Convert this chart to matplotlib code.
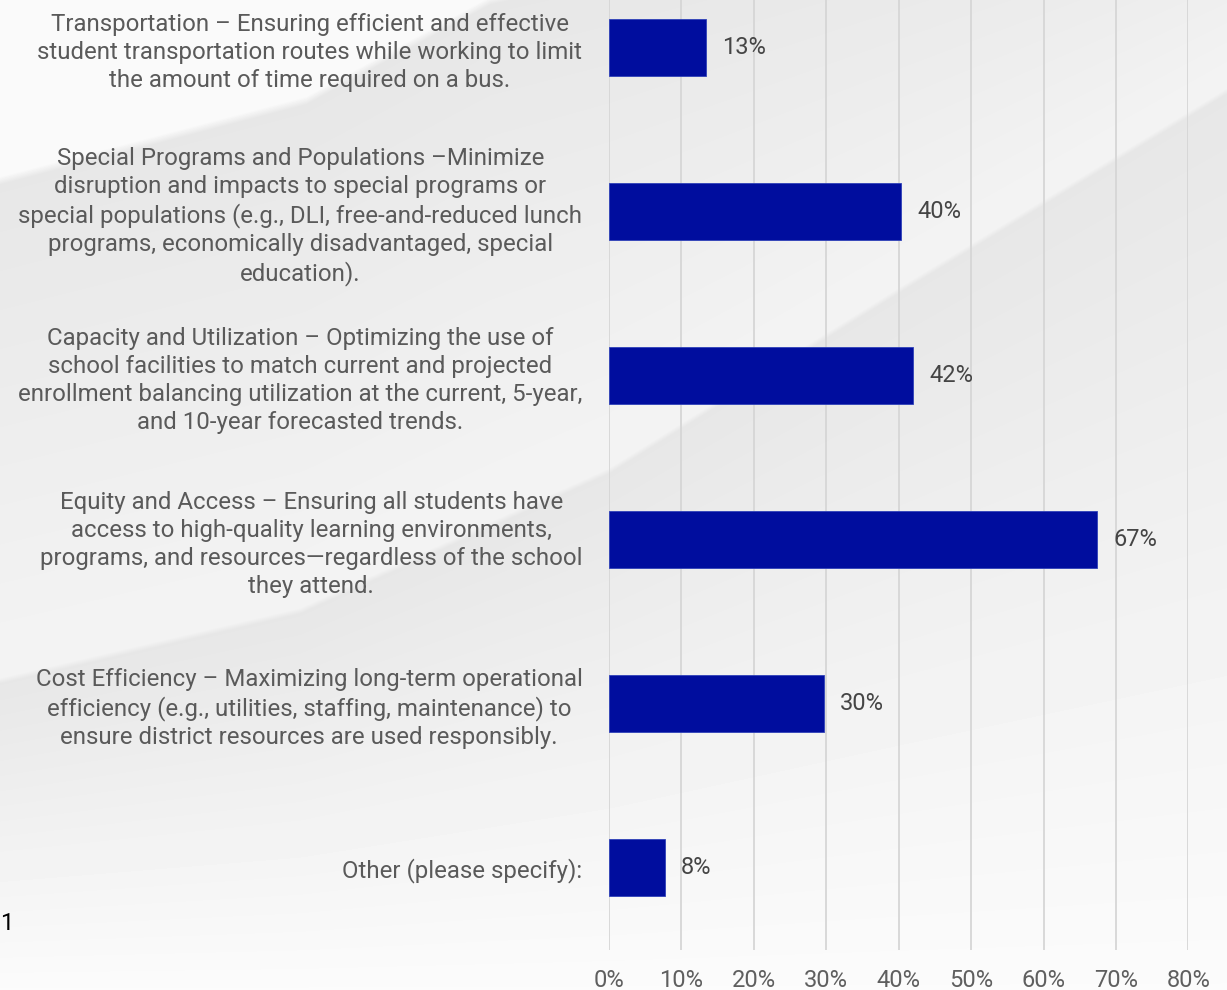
import numpy as np
import matplotlib
matplotlib.use('Agg')
import matplotlib.pyplot as plt

plt.rcParams['font.family'] = ['Roboto', 'DejaVu Sans']

# %% data
categories = [
    "Transportation – Ensuring efficient and effective\n"
    "student transportation routes while working to limit\n"
    "the amount of time required on a bus.",
    "Special Programs and Populations –Minimize\n"
    "disruption and impacts to special programs or\n"
    "special populations (e.g., DLI, free-and-reduced lunch\n"
    "programs, economically disadvantaged, special\n"
    "education).",
    "Capacity and Utilization – Optimizing the use of\n"
    "school facilities to match current and projected\n"
    "enrollment balancing utilization at the current, 5-year,\n"
    "and 10-year forecasted trends.",
    "Equity and Access – Ensuring all students have\n"
    "access to high-quality learning environments,\n"
    "programs, and resources—regardless of the school\n"
    "they attend.",
    "Cost Efficiency – Maximizing long-term operational\n"
    "efficiency (e.g., utilities, staffing, maintenance) to\n"
    "ensure district resources are used responsibly.",
    "Other (please specify):",
]
percent = [13.4, 40.4, 42.0, 67.4, 29.7, 7.7]
value_labels = ['13%', '40%', '42%', '67%', '30%', '8%']
x_ticks = [0, 10, 20, 30, 40, 50, 60, 70, 80]

W, H = 1227, 990
fig = plt.figure(figsize=(W / 100, H / 100), dpi=100)

# %% background (grey slide with a light swoosh)
yy, xx = np.mgrid[0:H, 0:W].astype(float)
y1 = np.interp(xx, [0, 306, 490, 1227], [180, 100, 0, -160])
y2 = np.interp(xx, [0, 300, 609, 898, 1227], [680, 610, 470, 290, 90])
t = np.clip((yy - y1) / (y2 - y1), 0, 1)
between = 0.905 + 0.05 * t
t2 = np.clip((yy - y2) / (H - y2), 0, 1)
below = 0.905 + 0.08 * t2
s1 = np.clip((yy - y1) / 8 + 0.5, 0, 1)
s2 = np.clip((yy - y2) / 6 + 0.5, 0, 1)
img = 0.978 * (1 - s1) + s1 * ((1 - s2) * between + s2 * below)
bg = fig.add_axes([0, 0, 1, 1], zorder=0)
bg.imshow(img, cmap='gray', vmin=0, vmax=1, aspect='auto', interpolation='bilinear')
bg.axis('off')

# %% chart
left, right = 608.8, 1188.4
top, bottom = -34.5, 949.5
ax = fig.add_axes([left / W, (H - bottom) / H, (right - left) / W, (bottom - top) / H], zorder=1)
ax.patch.set_alpha(0)

ypos = np.arange(len(categories))
ax.barh(ypos, percent, height=0.35, color='#000d9e', edgecolor='#2f41b8', linewidth=0.6, zorder=3)
for y, v, lab in zip(ypos, percent, value_labels):
    ax.annotate(lab, (v, y), xytext=(11.5, 0), textcoords='offset points',
                va='center', ha='left', fontsize=17, color='#454545')

ax.set_xlim(0, 80)
ax.set_ylim(len(categories) - 0.5, -0.5)
ax.set_xticks(x_ticks, labels=[f'{v}%' for v in x_ticks])
ax.set_yticks(ypos, labels=categories)
for lab in ax.get_yticklabels():
    lab.set_multialignment('center')
    lab.set_linespacing(1.27)
ax.tick_params(axis='y', length=0, pad=19, labelsize=17.3, labelcolor='#5a5a5a')
ax.tick_params(axis='x', length=0, pad=14, labelsize=17, labelcolor='#5f5f5f')
ax.grid(axis='x', color='#d6d6d6', linewidth=1.3, zorder=0)
ax.set_axisbelow(True)
for sp in ax.spines.values():
    sp.set_visible(False)

fig.text(0, (H - 923) / H, '1', ha='left', va='center', fontsize=17, color='black')

fig.savefig('out.png', dpi=100)
